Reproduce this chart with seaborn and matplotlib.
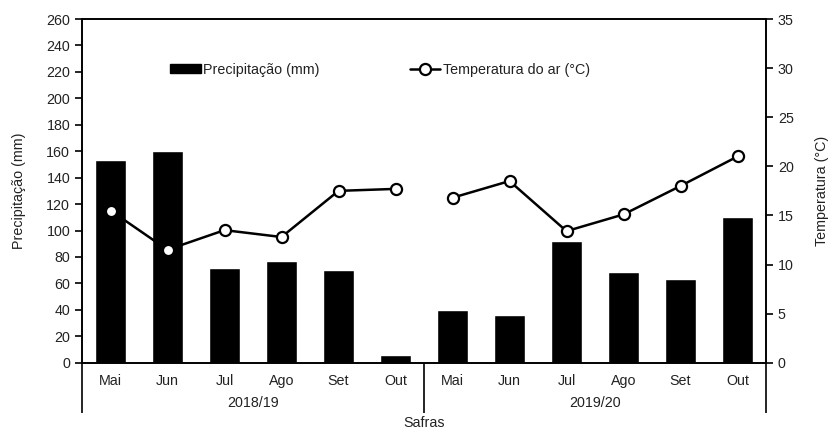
import numpy as np
import pandas as pd
import matplotlib
matplotlib.use("Agg")
import matplotlib.pyplot as plt
import seaborn as sns
from matplotlib.lines import Line2D
from matplotlib.patches import Patch

safras = ["2018/19"] * 6 + ["2019/20"] * 6
meses = ["Mai", "Jun", "Jul", "Ago", "Set", "Out"] * 2
precipitacao = [153, 160, 72, 77, 70, 6, 40, 36, 92, 69, 63, 110]
temperatura = [15.5, 11.5, 13.5, 12.8, 17.5, 17.7, 16.8, 18.5, 13.4, 15.1, 18.0, 21.0]
grupos = ["2018/19", "2019/20"]

sns.set_theme(style="white")
plt.rcParams["font.family"] = ["Liberation Sans", "DejaVu Sans"]
fs = 10.3
plt.rcParams["font.size"] = fs

df = pd.DataFrame({"safra": safras, "mes": meses,
                   "prec": precipitacao, "temp": temperatura})
df["slot"] = df["safra"] + " " + df["mes"]
df["pos"] = np.arange(len(df))

txt = "#222222"
fig = plt.figure(figsize=(8.31, 4.29), dpi=100)
ax = fig.add_axes([0.0987, 0.1545, 0.8231, 0.8012])

sns.barplot(data=df, x="slot", y="prec", color="black", width=0.53,
            saturation=1, ax=ax, order=list(df["slot"]))
ax.set_xlim(-0.5, 11.5)
ax.set_ylim(0, 260)
ax.set_yticks(np.arange(0, 261, 20))
ax.set_ylabel("Precipitação (mm)", color=txt, fontsize=fs, labelpad=15)
ax.set_xlabel("")

# month labels
ax.set_xticks(range(12), meses)
ax.tick_params(axis="x", which="major", length=0, pad=8, labelsize=fs, labelcolor=txt)
ax.set_xticks(np.arange(0.5, 11, 1), minor=True)
ax.tick_params(axis="x", which="minor", length=19, width=1.2, color="black", direction="out")
ax.tick_params(axis="y", length=5, width=1.2, direction="out", left=True,
               labelsize=fs, labelcolor=txt, color="black")
for s in ax.spines.values():
    s.set_color("black")
    s.set_linewidth(1.2)

# group axis
sec = ax.secondary_xaxis("bottom")
sec.set_xticks([-0.5, 5.5, 11.5], ["", "", ""])
sec.tick_params(axis="x", which="major", length=36, width=1.2, color="black", direction="out")
sec.set_xticks([2.5, 8.5], grupos, minor=True)
sec.tick_params(axis="x", which="minor", length=0, pad=24, labelsize=fs, labelcolor=txt)
sec.spines["bottom"].set_visible(False)
sec.set_xlabel("Safras", color=txt, fontsize=fs, labelpad=-1)

ax2 = ax.twinx()
sns.lineplot(data=df, x="pos", y="temp", hue="safra", palette=["black", "black"],
             marker="o", markersize=8, markerfacecolor="white", markeredgecolor="black",
             markeredgewidth=1.6, linewidth=1.8, legend=False, ax=ax2)
ax2.set_ylim(0, 35)
ax2.set_yticks(np.arange(0, 36, 5))
ax2.set_ylabel("Temperatura (°C)", color=txt, fontsize=fs, labelpad=15)
ax2.set_xlabel("")
ax2.tick_params(axis="y", length=5, width=1.2, direction="out", right=True,
                labelsize=fs, labelcolor=txt, color="black")
for s in ax2.spines.values():
    s.set_color("black")
    s.set_linewidth(1.2)
ax2.set_xlim(-0.5, 11.5)

handles = [Patch(facecolor="black", edgecolor="black", label="Precipitação (mm)"),
           Line2D([0], [0], color="black", linewidth=1.8, marker="o", markersize=8,
                  markerfacecolor="white", markeredgewidth=1.6,
                  label="Temperatura do ar (°C)")]
ax2.legend(handles=handles, loc="center", bbox_to_anchor=(0.436, 0.852), ncol=2,
           frameon=False, fontsize=fs, handlelength=2.1, handleheight=0.6,
           handletextpad=0.2, columnspacing=6.3, labelcolor=txt)

fig.savefig("out.png", dpi=100)
